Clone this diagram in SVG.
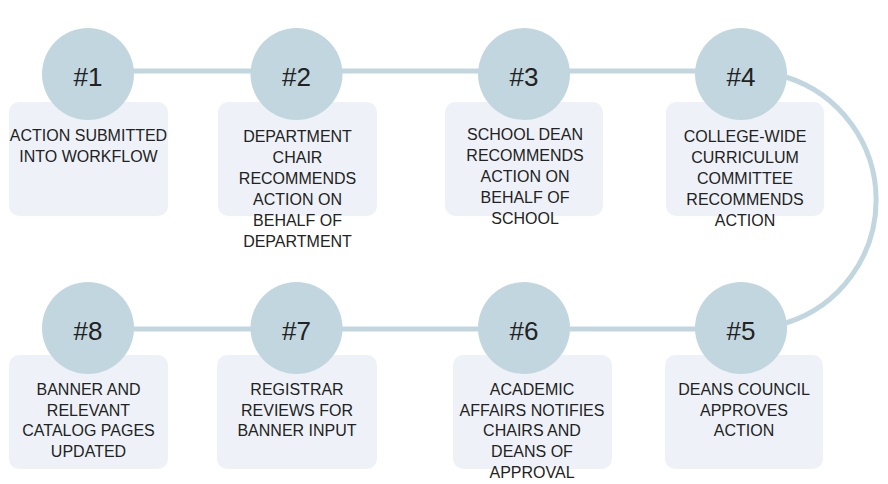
<svg xmlns="http://www.w3.org/2000/svg" width="888" height="484" viewBox="0 0 888 484">
<style>
.box{fill:#eef2f8}
.dot{fill:#c2d6e0}
.num{font-family:"Liberation Sans",Arial,sans-serif;font-size:26px;fill:#222;text-anchor:middle}
.lbl{font-family:"Liberation Sans",Arial,sans-serif;font-size:16px;fill:#222;text-anchor:middle}
.conn{stroke:#c2d6e0;stroke-width:5;fill:none}
</style>
<rect width="888" height="484" fill="#ffffff"/>
<g id="connectors">
<line class="conn" x1="88" y1="71" x2="741" y2="71"/>
<line class="conn" x1="88" y1="329" x2="741" y2="329"/>
<path class="conn" d="M 786 77 A 129 129 0 0 1 786 323"/>
</g>
<g id="node1">
<rect class="box" x="9" y="102" width="159" height="114" rx="10"/>
<circle class="dot" cx="88" cy="74" r="46"/>
<text class="num" x="88" y="86">#1</text>
<text class="lbl" x="88.5" y="141">ACTION SUBMITTED</text>
<text class="lbl" x="88.5" y="162">INTO WORKFLOW</text>
</g>
<g id="node2">
<rect class="box" x="218" y="102" width="159" height="114" rx="10"/>
<circle class="dot" cx="296.5" cy="74" r="46"/>
<text class="num" x="296.5" y="86">#2</text>
<text class="lbl" x="297.5" y="141.5">DEPARTMENT</text>
<text class="lbl" x="297.5" y="162.5">CHAIR</text>
<text class="lbl" x="297.5" y="183.5">RECOMMENDS</text>
<text class="lbl" x="297.5" y="204.5">ACTION ON</text>
<text class="lbl" x="297.5" y="225.5">BEHALF OF</text>
<text class="lbl" x="297.5" y="246.5">DEPARTMENT</text>
</g>
<g id="node3">
<rect class="box" x="445" y="102" width="158" height="114" rx="10"/>
<circle class="dot" cx="524" cy="74" r="46"/>
<text class="num" x="524" y="86">#3</text>
<text class="lbl" x="525" y="140">SCHOOL DEAN</text>
<text class="lbl" x="525" y="161">RECOMMENDS</text>
<text class="lbl" x="525" y="182">ACTION ON</text>
<text class="lbl" x="525" y="203">BEHALF OF</text>
<text class="lbl" x="525" y="224">SCHOOL</text>
</g>
<g id="node4">
<rect class="box" x="666" y="102" width="158" height="114" rx="10"/>
<circle class="dot" cx="741" cy="74" r="46"/>
<text class="num" x="741" y="86">#4</text>
<text class="lbl" x="745" y="141.5">COLLEGE-WIDE</text>
<text class="lbl" x="745" y="162.5">CURRICULUM</text>
<text class="lbl" x="745" y="183.5">COMMITTEE</text>
<text class="lbl" x="745" y="204.5">RECOMMENDS</text>
<text class="lbl" x="745" y="225.5">ACTION</text>
</g>
<g id="node5">
<rect class="box" x="665" y="355" width="158" height="114" rx="10"/>
<circle class="dot" cx="741" cy="328" r="46"/>
<text class="num" x="741" y="340">#5</text>
<text class="lbl" x="744" y="395">DEANS COUNCIL</text>
<text class="lbl" x="744" y="415.7">APPROVES</text>
<text class="lbl" x="744" y="436.4">ACTION</text>
</g>
<g id="node6">
<rect class="box" x="453" y="355" width="159" height="114" rx="10"/>
<circle class="dot" cx="524" cy="328" r="46"/>
<text class="num" x="524" y="340">#6</text>
<text class="lbl" x="532" y="395">ACADEMIC</text>
<text class="lbl" x="532" y="415.7">AFFAIRS NOTIFIES</text>
<text class="lbl" x="532" y="436.4">CHAIRS AND</text>
<text class="lbl" x="532" y="457.1">DEANS OF</text>
<text class="lbl" x="532" y="477.8">APPROVAL</text>
</g>
<g id="node7">
<rect class="box" x="217" y="355" width="160" height="114" rx="10"/>
<circle class="dot" cx="296.5" cy="328" r="46"/>
<text class="num" x="296.5" y="340">#7</text>
<text class="lbl" x="297" y="395">REGISTRAR</text>
<text class="lbl" x="297" y="415.7">REVIEWS FOR</text>
<text class="lbl" x="297" y="436.4">BANNER INPUT</text>
</g>
<g id="node8">
<rect class="box" x="9" y="355" width="159" height="114" rx="10"/>
<circle class="dot" cx="88" cy="328" r="46"/>
<text class="num" x="88" y="340">#8</text>
<text class="lbl" x="88.5" y="395">BANNER AND</text>
<text class="lbl" x="88.5" y="415.7">RELEVANT</text>
<text class="lbl" x="88.5" y="436.4">CATALOG PAGES</text>
<text class="lbl" x="88.5" y="457.1">UPDATED</text>
</g>
</svg>
